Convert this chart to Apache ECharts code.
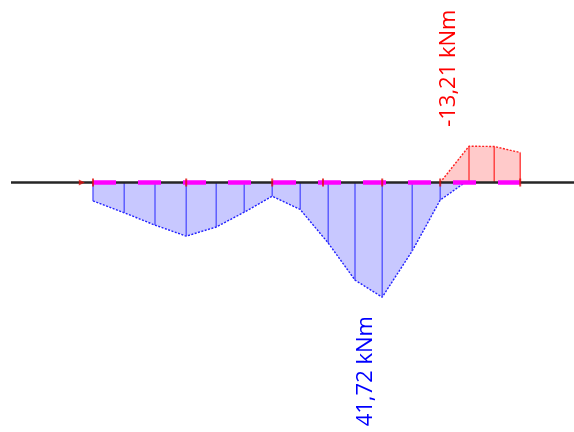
<!DOCTYPE html>
<html>
<head>
<meta charset="utf-8">
<script src="https://cdn.jsdelivr.net/npm/echarts@6/dist/echarts.min.js"></script>
<style>html,body{margin:0;padding:0;background:#fff;}#c{width:574px;height:432px;}</style>
</head>
<body>
<div id="c"></div>
<script>
// Positions along the beam (m) and bending moments (kNm, positive = sagging, drawn below)
const sagPositions = [0, 0.78, 1.55, 2.33, 3.08, 3.78, 4.48, 5.18, 5.88, 6.55, 7.23, 7.98, 8.68, 9.30];
const sagMoments   = [6.7, 11.0, 15.5, 19.5, 16.2, 10.8, 5.0, 9.8, 22.0, 35.5, 41.72, 24.9, 6.4, 0];
const hogPositions = [8.68, 9.40, 10.03, 10.68];
const hogMoments   = [0, -13.21, -13.1, -10.9];
const nodePositions = [0, 2.33, 4.48, 5.75, 7.23, 8.68, 10.68];
const arrowPosition = [-0.28];
const beamExtent = [-2.05, 12.025];
const loadExtent = [0, 10.68];
const maxLabel = '41,72 kNm';
const minLabel = '-13,21 kNm';
const maxIndex = 10;
const minIndex = 1;

const pairs = (xs, ys) => xs.map((x, i) => [x, ys[i]]);
const sagData = pairs(sagPositions, sagMoments);
const hogData = pairs(hogPositions, hogMoments);
const sagVerticals = sagData.slice(0, sagData.length - 1);
const hogVerticals = hogData.slice(1);

function verticalSeries(data, color, z) {
  return {
    type: 'custom', data: data, z: z, silent: true,
    renderItem: function (params, api) {
      const p0 = api.coord([api.value(0), 0]);
      const p1 = api.coord([api.value(0), api.value(1)]);
      return { type: 'line', shape: { x1: p0[0], y1: p0[1], x2: p1[0], y2: p1[1] },
               style: { stroke: color, lineWidth: 1.3 } };
    }
  };
}

const chart = echarts.init(document.getElementById('c'), null, { renderer: 'canvas' });
chart.setOption({
  animation: false,
  grid: { left: 11, right: 0, top: 0, bottom: 0, containLabel: false },
  xAxis: { type: 'value', min: beamExtent[0], max: beamExtent[1], show: false },
  yAxis: { type: 'value', inverse: true, min: -66.39, max: 90.76, show: false },
  series: [
    { type: 'line', data: sagData, symbol: 'none', z: 1,
      lineStyle: { color: '#2020ff', width: 1.4, type: [2, 1.5] },
      areaStyle: { color: '#c8c8ff', opacity: 1 } },
    { type: 'line', data: hogData, symbol: 'none', z: 1,
      lineStyle: { color: '#ff2020', width: 1.4, type: [2, 1.5] },
      areaStyle: { color: '#ffcaca', opacity: 1 } },
    verticalSeries(sagVerticals, '#4d4dff', 2),
    verticalSeries(hogVerticals, '#ff3030', 2),
    { type: 'line', data: beamExtent.map(x => [x, 0]), symbol: 'none', z: 3,
      lineStyle: { color: '#262626', width: 2.6 } },
    { type: 'line', data: loadExtent.map(x => [x, 0]), symbol: 'none', z: 4,
      lineStyle: { color: '#ff00ff', width: 4.5, type: [23, 22] } },
    { type: 'scatter', data: nodePositions.map(x => [x, 0]), z: 5,
      symbol: 'rect', symbolSize: [2, 8], itemStyle: { color: '#e01010' } },
    { type: 'scatter', data: arrowPosition.map(x => [x, 0]), z: 5,
      symbol: 'triangle', symbolRotate: -90, symbolSize: 6, itemStyle: { color: '#e01010' } }
  ]
});

const pMax = chart.convertToPixel({ gridIndex: 0 }, sagData[maxIndex]);
const pMin = chart.convertToPixel({ gridIndex: 0 }, hogData[minIndex]);
chart.setOption({
  graphic: [
    { type: 'text', x: pMax[0] - 16, y: pMax[1] + 74, rotation: Math.PI / 2,
      style: { text: maxLabel, fill: '#0000ff', font: '22px "Open Sans"', align: 'center', verticalAlign: 'middle' } },
    { type: 'text', x: pMin[0] - 20, y: pMin[1] - 78, rotation: Math.PI / 2,
      style: { text: minLabel, fill: '#ff0000', font: '22px "Open Sans"', align: 'center', verticalAlign: 'middle' } }
  ]
});
</script>
</body>
</html>
